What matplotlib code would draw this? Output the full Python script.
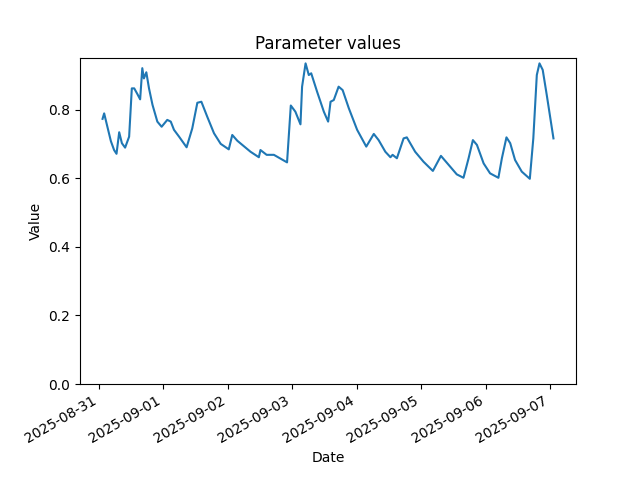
import matplotlib
matplotlib.use("Agg")
import matplotlib.pyplot as plt
import matplotlib.dates as mdates
import pandas as pd

start = pd.Timestamp("2025-08-31 00:00")
hours = [1.4, 2.0, 3.2, 4.5, 5.7, 6.6, 7.6, 8.6, 9.8, 11.3, 12.3, 13.2, 14.4, 15.4,
         16.2, 16.8, 17.7, 18.7, 20.0, 21.8, 23.4, 25.5, 26.8, 28.0, 29.9, 32.7, 34.8,
         36.7, 38.2, 40.4, 42.9, 45.4, 48.4, 49.7, 51.6, 56.5, 59.6, 60.2, 62.5, 65.2,
         70.1, 71.5, 73.2, 75.1, 75.7, 77.0, 78.2, 79.1, 81.3, 83.8, 85.4, 86.3, 87.5,
         89.3, 90.8, 93.1, 96.2, 99.6, 102.4, 104.2, 106.7, 108.6, 109.4, 111.0, 113.5,
         114.7, 117.8, 120.9, 124.4, 127.4, 130.9, 133.3, 135.8, 137.7, 139.3, 140.8,
         143.3, 145.7, 148.8, 150.1, 151.8, 153.2, 155.0, 157.5, 160.5, 161.8, 163.1,
         164.1, 165.3, 166.8, 169.3]
values = [0.774, 0.790, 0.751, 0.709, 0.683, 0.672, 0.735, 0.703, 0.690, 0.722, 0.863,
          0.863, 0.846, 0.831, 0.922, 0.892, 0.910, 0.863, 0.815, 0.766, 0.751, 0.771,
          0.766, 0.742, 0.722, 0.691, 0.746, 0.821, 0.824, 0.780, 0.732, 0.701, 0.685,
          0.727, 0.710, 0.678, 0.662, 0.683, 0.669, 0.669, 0.647, 0.813, 0.795, 0.758,
          0.868, 0.936, 0.902, 0.907, 0.853, 0.795, 0.766, 0.824, 0.829, 0.868, 0.858,
          0.805, 0.742, 0.693, 0.730, 0.712, 0.678, 0.662, 0.669, 0.659, 0.717, 0.720,
          0.678, 0.649, 0.622, 0.666, 0.634, 0.612, 0.602, 0.659, 0.712, 0.698, 0.644,
          0.615, 0.602, 0.659, 0.720, 0.703, 0.654, 0.620, 0.599, 0.717, 0.902, 0.936,
          0.917, 0.844, 0.717]

dates = [start + pd.Timedelta(hours=h) for h in hours]

fig, ax = plt.subplots(figsize=(6.4, 4.8), dpi=100)
ax.plot(dates, values, color="#1f77b4", linewidth=1.5)
ax.set_ylim(bottom=0)
ax.xaxis.set_major_locator(mdates.DayLocator())
ax.xaxis.set_major_formatter(mdates.DateFormatter("%Y-%m-%d"))
ax.set_title("Parameter values")
ax.set_xlabel("Date")
ax.set_ylabel("Value")
fig.autofmt_xdate()
fig.savefig("out.png", dpi=100)
